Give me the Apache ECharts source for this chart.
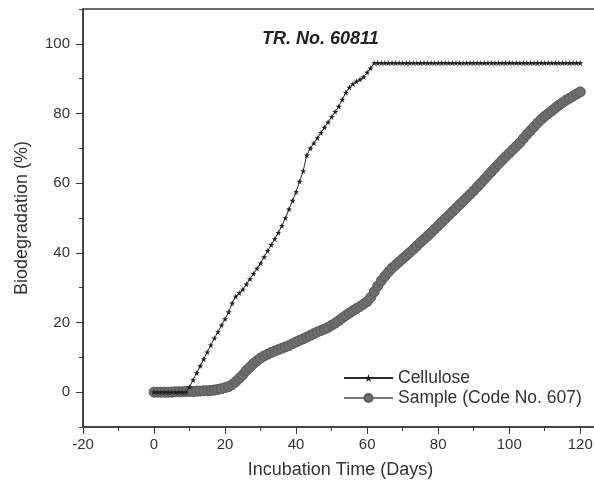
<!DOCTYPE html>
<html>
<head>
<meta charset="utf-8">
<script src="https://cdn.jsdelivr.net/npm/echarts@6/dist/echarts.min.js"></script>
<style>
html,body{margin:0;padding:0;background:#fff;}
#c{width:594px;height:491px;}
</style>
</head>
<body>
<div id="c"></div>
<script>
// Days 0..120
var days = [];
for (var d = 0; d <= 120; d++) days.push(d);

var celluloseValues = [
  0,0,0,0,0,0,0,0,0,0,
  1.5,3.5,5.5,7.5,9.5,11.5,13.5,15.5,17.3,19.2,
  21.0,23.0,25.5,27.5,28.5,29.5,31.0,32.5,34.0,35.5,
  37.0,38.8,40.6,42.3,44.0,45.8,47.8,50.0,52.5,55.0,
  57.5,60.5,63.5,68.0,70.0,71.5,73.0,74.5,76.0,77.5,
  79.0,80.5,82.0,84.0,86.0,87.5,88.5,89.2,89.8,90.5,
  91.8,93.0,94.5,94.5,94.5,94.5,94.5,94.5,94.5,94.5,
  94.5,94.5,94.5,94.5,94.5,94.5,94.5,94.5,94.5,94.5,
  94.5,94.5,94.5,94.5,94.5,94.5,94.5,94.5,94.5,94.5,
  94.5,94.5,94.5,94.5,94.5,94.5,94.5,94.5,94.5,94.5,
  94.5,94.5,94.5,94.5,94.5,94.5,94.5,94.5,94.5,94.5,
  94.5,94.5,94.5,94.5,94.5,94.5,94.5,94.5,94.5,94.5,
  94.5
];

var sampleValues = [
  0,0,0,0,0,0,0.1,0.1,0.1,0.2,
  0.2,0.2,0.3,0.3,0.4,0.4,0.5,0.6,0.8,1.0,
  1.3,1.6,2.2,3.0,4.0,5.0,6.2,7.2,8.2,9.0,
  9.8,10.4,10.9,11.4,11.8,12.2,12.6,13.0,13.4,13.9,
  14.4,14.9,15.3,15.8,16.3,16.8,17.3,17.7,18.1,18.6,
  19.2,19.8,20.5,21.3,22.0,22.7,23.4,24.0,24.6,25.3,
  26.0,27.2,28.8,30.5,32.0,33.3,34.5,35.6,36.5,37.4,
  38.3,39.2,40.1,41.0,42.0,43.0,43.9,44.8,45.8,46.8,
  47.8,48.8,49.8,50.8,51.8,52.8,53.8,54.8,55.8,56.8,
  57.8,58.9,60.0,61.1,62.2,63.3,64.4,65.5,66.6,67.6,
  68.6,69.6,70.6,71.6,72.8,74.0,75.1,76.2,77.3,78.3,
  79.2,80.0,80.8,81.6,82.4,83.1,83.8,84.4,85.0,85.6,
  86.2
];

var xTickLabels = [-20, 0, 20, 40, 60, 80, 100, 120];
var yTickLabels = [0, 20, 40, 60, 80, 100];

var seriesNames = ['Cellulose', 'Sample (Code No. 607)'];
var chartTitle = 'TR. No. 60811';

function pairs(xs, ys) { return xs.map(function (x, i) { return [x, ys[i]]; }); }

var starPath = 'path://M50,0 L61.8,35.1 L98.9,35.1 L68.9,57.3 L80.3,92.7 L50,70.8 L19.7,92.7 L31.1,57.3 L1.1,35.1 L38.2,35.1 Z';

var axisColor = '#3a3a3a';
var font = 'Liberation Sans, Arial, sans-serif';

var chart = echarts.init(document.getElementById('c'));
chart.setOption({
  animation: false,
  backgroundColor: '#fff',
  title: {
    text: chartTitle,
    left: 257, top: 25,
    textStyle: { fontFamily: font, fontSize: 18, fontWeight: 'bold', fontStyle: 'italic', color: '#222' }
  },
  grid: {
    left: 83, top: 9, width: 515, bottom: 64,
    containLabel: false, outerBoundsMode: 'none',
    show: true, borderColor: axisColor, borderWidth: 1.5, backgroundColor: 'transparent'
  },
  legend: {
    orient: 'vertical', left: 338, top: 363,
    itemWidth: 49, itemHeight: 10, itemGap: 0,
    textStyle: { fontFamily: font, fontSize: 17.5, color: '#333', lineHeight: 20 },
    data: seriesNames
  },
  xAxis: [{
    type: 'value', min: -20, max: 125, interval: 10,
    name: 'Incubation Time (Days)', nameLocation: 'middle', nameGap: 34,
    nameTextStyle: { fontFamily: font, fontSize: 18, color: '#333' },
    axisLine: { show: true, onZero: false, lineStyle: { color: axisColor, width: 1.5 } },
    axisTick: { show: true, inside: false, length: 4, lineStyle: { color: axisColor } },
    axisLabel: {
      fontFamily: font, fontSize: 15, color: '#333', margin: 10,
      formatter: function (v) { return xTickLabels.indexOf(v) >= 0 ? String(v) : ''; }
    },
    splitLine: { show: false }
  }, {
    type: 'value', min: -20, max: 125, position: 'bottom',
    axisLine: { show: false, onZero: false },
    axisTick: { show: true, length: 7, customValues: xTickLabels, lineStyle: { color: axisColor } },
    axisLabel: { show: false },
    splitLine: { show: false }
  }],
  yAxis: [{
    type: 'value', min: -10, max: 110, interval: 10,
    name: 'Biodegradation (%)', nameLocation: 'middle', nameGap: 52,
    nameTextStyle: { fontFamily: font, fontSize: 18, color: '#333' },
    axisLine: { show: true, onZero: false, lineStyle: { color: axisColor, width: 1.5 } },
    axisTick: { show: true, length: 4, lineStyle: { color: axisColor } },
    axisLabel: {
      fontFamily: font, fontSize: 15, color: '#333', margin: 13,
      formatter: function (v) { return yTickLabels.indexOf(v) >= 0 ? String(v) : ''; }
    },
    splitLine: { show: false }
  }, {
    type: 'value', min: -10, max: 110, position: 'left',
    axisLine: { show: false, onZero: false },
    axisTick: { show: true, length: 7, customValues: yTickLabels, lineStyle: { color: axisColor } },
    axisLabel: { show: false },
    splitLine: { show: false }
  }],
  series: [{
    name: seriesNames[1], type: 'line', xAxisIndex: 0, yAxisIndex: 0,
    data: pairs(days, sampleValues),
    symbol: 'circle', symbolSize: 10, showSymbol: true,
    itemStyle: { color: '#6e6e6e', borderColor: '#5a5a5a', borderWidth: 1 },
    lineStyle: { color: '#777', width: 1 },
    z: 2
  }, {
    name: seriesNames[0], type: 'line', xAxisIndex: 0, yAxisIndex: 0,
    data: pairs(days, celluloseValues),
    symbol: starPath, symbolSize: 6, showSymbol: true,
    itemStyle: { color: '#1e1e1e' },
    lineStyle: { color: '#2a2a2a', width: 1 },
    z: 3
  }]
});
</script>
</body>
</html>
